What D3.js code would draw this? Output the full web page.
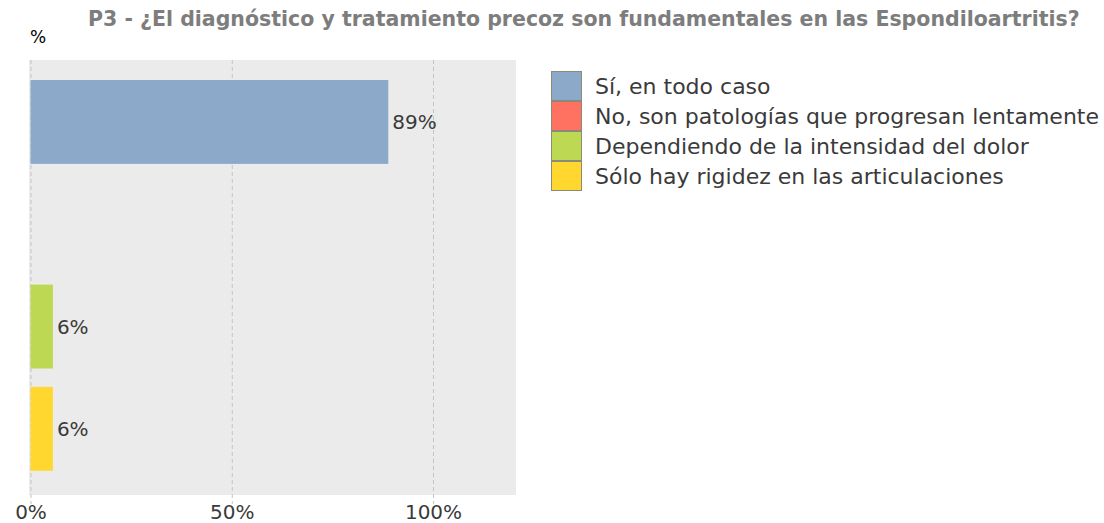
<!DOCTYPE html>
<html>
<head>
<meta charset="utf-8">
<script src="https://cdn.jsdelivr.net/npm/d3@7"></script>
<style>
  html, body { margin: 0; padding: 0; background: #ffffff; }
  svg { display: block; }
</style>
</head>
<body>
<div id="chart"></div>
<script>
// ---- Data ----
const title = "P3 - ¿El diagnóstico y tratamiento precoz son fundamentales en las Espondiloartritis?";
const unitLabel = "%";
const categories = [
  "Sí, en todo caso",
  "No, son patologías que progresan lentamente",
  "Dependiendo de la intensidad del dolor",
  "Sólo hay rigidez en las articulaciones"
];
const values = [88.89, 0, 5.56, 5.56];
const colors = ["#8ca9ca", "#ff7262", "#bdd853", "#ffd72f"];
const tickValues = [0, 50, 100];
const tickLabels = ["0%", "50%", "100%"];

// ---- Layout ----
const W = 1104, H = 523;
const panel = { left: 29, top: 60, right: 516, bottom: 495 };
const font = "'DejaVu Sans', Verdana, sans-serif";

const svg = d3.select("#chart").append("svg")
  .attr("width", W).attr("height", H);

const x = d3.scaleLinear().domain([0, 120]).range([30.5, 513.5]);
const y = d3.scaleBand().domain(categories).range([70.8, 480])
  .paddingInner(0.18).paddingOuter(0.09);
const color = d3.scaleOrdinal().domain(categories).range(colors);

// Title
svg.append("text")
  .attr("x", 88).attr("y", 26)
  .attr("font-family", font).attr("font-weight", "bold")
  .attr("font-size", 20.5).attr("fill", "#7d7d7d")
  .text(title);

// unit label
svg.append("text")
  .attr("x", 30).attr("y", 43)
  .attr("font-family", font).attr("font-size", 17).attr("fill", "#000")
  .text(unitLabel);

// panel background
svg.append("rect")
  .attr("x", panel.left).attr("y", panel.top)
  .attr("width", panel.right - panel.left).attr("height", panel.bottom - panel.top)
  .attr("fill", "#ebebeb");

// grid lines + axis
const axis = d3.axisBottom(x)
  .tickValues(tickValues)
  .tickFormat((d, i) => tickLabels[i])
  .tickSize(panel.bottom - panel.top + 9)
  .tickPadding(1);

const gx = svg.append("g")
  .attr("transform", `translate(0,${panel.top})`)
  .call(axis);
gx.select(".domain").remove();
gx.selectAll(".tick line")
  .attr("stroke", "#c4c4c4").attr("stroke-width", 1)
  .attr("stroke-dasharray", "4,3");
gx.selectAll(".tick text")
  .attr("font-family", font).attr("font-size", 20).attr("fill", "#3a3a3a");

// bars
svg.append("g").selectAll("rect")
  .data(categories)
  .join("rect")
  .attr("x", x(0))
  .attr("y", d => y(d))
  .attr("width", (d, i) => x(values[i]) - x(0))
  .attr("height", y.bandwidth())
  .attr("fill", d => color(d));

// bar labels
svg.append("g").selectAll("text")
  .data(categories.filter((d, i) => values[i] > 0))
  .join("text")
  .attr("x", d => x(values[categories.indexOf(d)]) + 4)
  .attr("y", d => y(d) + y.bandwidth() / 2)
  .attr("dy", "0.36em")
  .attr("font-family", font).attr("font-size", 20).attr("fill", "#3a3a3a")
  .text(d => Math.round(values[categories.indexOf(d)]) + "%");

// legend
const lg = svg.append("g").attr("transform", "translate(551,71)");
const rowH = 30;
const items = lg.selectAll("g").data(categories).join("g")
  .attr("transform", (d, i) => `translate(0,${i * rowH})`);
items.append("rect")
  .attr("x", 0.5).attr("y", 0.5)
  .attr("width", 30).attr("height", rowH - 1)
  .attr("fill", d => color(d))
  .attr("stroke", "#8a8a7a").attr("stroke-width", 1);
items.append("text")
  .attr("x", 44).attr("y", rowH / 2)
  .attr("dy", "0.36em")
  .attr("font-family", font).attr("font-size", 22).attr("fill", "#3a3a3a")
  .text(d => d);
</script>
</body>
</html>
